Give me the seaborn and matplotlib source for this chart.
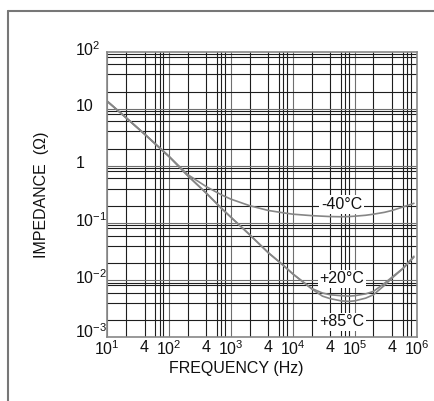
import numpy as np
import pandas as pd
import matplotlib
matplotlib.use("Agg")
import matplotlib.pyplot as plt
import seaborn as sns
from matplotlib import font_manager, transforms
from matplotlib.lines import Line2D

# ---------------- data ----------------
freq = [10, 20, 40, 100, 200, 400, 700, 1000, 2000, 4000, 7000, 10000,
        20000, 30000, 40000, 60000, 80000, 100000, 150000, 200000,
        300000, 400000, 600000, 900000]
z_m40 = [13.5, 7.0, 3.6, 1.45, 0.70, 0.43, 0.31, 0.26, 0.20, 0.165, 0.15,
         0.142, 0.134, 0.131, 0.129, 0.128, 0.129, 0.131, 0.136, 0.142,
         0.153, 0.165, 0.19, 0.22]
z_p20 = [13.5, 7.0, 3.6, 1.45, 0.67, 0.33, 0.18, 0.125, 0.062, 0.030, 0.018,
         0.0127, 0.0071, 0.0059, 0.0055, 0.0053, 0.0052, 0.0053, 0.0057,
         0.0063, 0.0087, 0.0112, 0.016, 0.026]
z_p85 = [13.5, 7.0, 3.6, 1.45, 0.67, 0.33, 0.18, 0.125, 0.062, 0.030, 0.018,
         0.0127, 0.0070, 0.0052, 0.0047, 0.0043, 0.0042, 0.0043, 0.0048,
         0.0055, 0.0080, 0.0108, 0.0158, 0.025]
series_names = ["-40°C", "+20°C", "+85°C"]

x_tick_vals = [10, 40, 100, 400, 1000, 4000, 10000, 40000, 100000, 400000, 1000000]
x_tick_labels = [r"$\mathregular{10^{1}}$", "4", r"$\mathregular{10^{2}}$", "4",
                 r"$\mathregular{10^{3}}$", "4", r"$\mathregular{10^{4}}$", "4",
                 r"$\mathregular{10^{5}}$", "4", r"$\mathregular{10^{6}}$"]
y_tick_vals = [1e-3, 1e-2, 1e-1, 1, 10, 100]
y_tick_labels = [r"$\mathregular{10^{-3}}$", r"$\mathregular{10^{-2}}$",
                 r"$\mathregular{10^{-1}}$", "1", "10", r"$\mathregular{10^{2}}$"]

# ---------------- style ----------------
sns.set_theme(style="white")
names = {f.name for f in font_manager.fontManager.ttflist}
fam = "Liberation Sans Narrow" if "Liberation Sans Narrow" in names else "Liberation Sans"
plt.rcParams["font.family"] = [fam, "DejaVu Sans"]

df = pd.concat([
    pd.DataFrame({"freq": freq, "z": z, "series": name})
    for name, z in zip(series_names, [z_m40, z_p20, z_p85])
], ignore_index=True)

fig = plt.figure(figsize=(4.34, 4.01), dpi=100)
ax = fig.add_axes([107.3 / 434, 1 - 337 / 401, (416.7 - 107.3) / 434, (337 - 51.7) / 401])

# grid lines (log paper)
for d in range(1, 6):
    for k in (1, 2, 4, 6, 7, 8):
        v = k * 10 ** d
        ax.axvline(v, color="#6f6f6f" if k == 1 else "#1e1e1e", lw=0.8, zorder=1)
for d in range(-3, 2):
    for k in (1, 2, 4, 6, 8, 9):
        v = k * 10.0 ** d
        ax.axhline(v, color="#6f6f6f" if k == 1 else "#1e1e1e", lw=0.8, zorder=1)

sns.lineplot(data=df, x="freq", y="z", hue="series", palette=["#868686"] * 3,
             legend=False, ax=ax, linewidth=1.2, sort=False, estimator=None, zorder=3)

ax.set_xscale("log")
ax.set_yscale("log")
ax.set_xlim(10, 1e6)
ax.set_ylim(1e-3, 1e2)
ax.set_xticks(x_tick_vals)
ax.set_xticklabels(x_tick_labels)
ax.set_yticks(y_tick_vals)
ax.set_yticklabels(y_tick_labels)
ax.xaxis.set_minor_locator(matplotlib.ticker.NullLocator())
ax.yaxis.set_minor_locator(matplotlib.ticker.NullLocator())
ax.tick_params(axis="x", length=0, pad=2, labelsize=11.5, colors="#111111")
ax.tick_params(axis="y", length=0, pad=23, labelsize=11.5, colors="#111111")
for i, lab in enumerate(ax.get_yticklabels()):
    lab.set_horizontalalignment("left")
    dy = 7 if i == 0 else 4
    lab.set_transform(lab.get_transform() + transforms.ScaledTranslation(0, dy / 100, fig.dpi_scale_trans))

for s in ax.spines.values():
    s.set_color("#888888")
    s.set_linewidth(1.2)
    s.set_zorder(2)

ax.set_xlabel("FREQUENCY (Hz)", fontsize=11.5, color="#111111", va="center")
ax.xaxis.set_label_coords((236 - 107.3) / 309.4, (337 - 369) / 285.3)
ax.set_ylabel("IMPEDANCE  (Ω)", fontsize=11.5, color="#111111", va="center")
ax.yaxis.set_label_coords((41.7 - 107.3) / 309.4, (337 - 195) / 285.3)

# curve labels
label_x = [6.1e4, 6.1e4, 6.1e4]
label_y = [0.21, 0.0104, 0.00185]
for name, lx, ly in zip(series_names, label_x, label_y):
    ax.text(lx, ly, name, ha="center", va="center", fontsize=11.5, color="#111111",
            zorder=5, bbox=dict(boxstyle="square,pad=0.1", fc="white", ec="none"))

# outer frame (cropped)
fx = 8 / 434
fy = 1 - 11 / 401
fig.add_artist(Line2D([fx, 1.0], [fy, fy], transform=fig.transFigure, color="#777777", lw=1.5))
fig.add_artist(Line2D([fx, fx], [0.0, fy], transform=fig.transFigure, color="#777777", lw=1.5))

fig.savefig("out.png", dpi=100)
